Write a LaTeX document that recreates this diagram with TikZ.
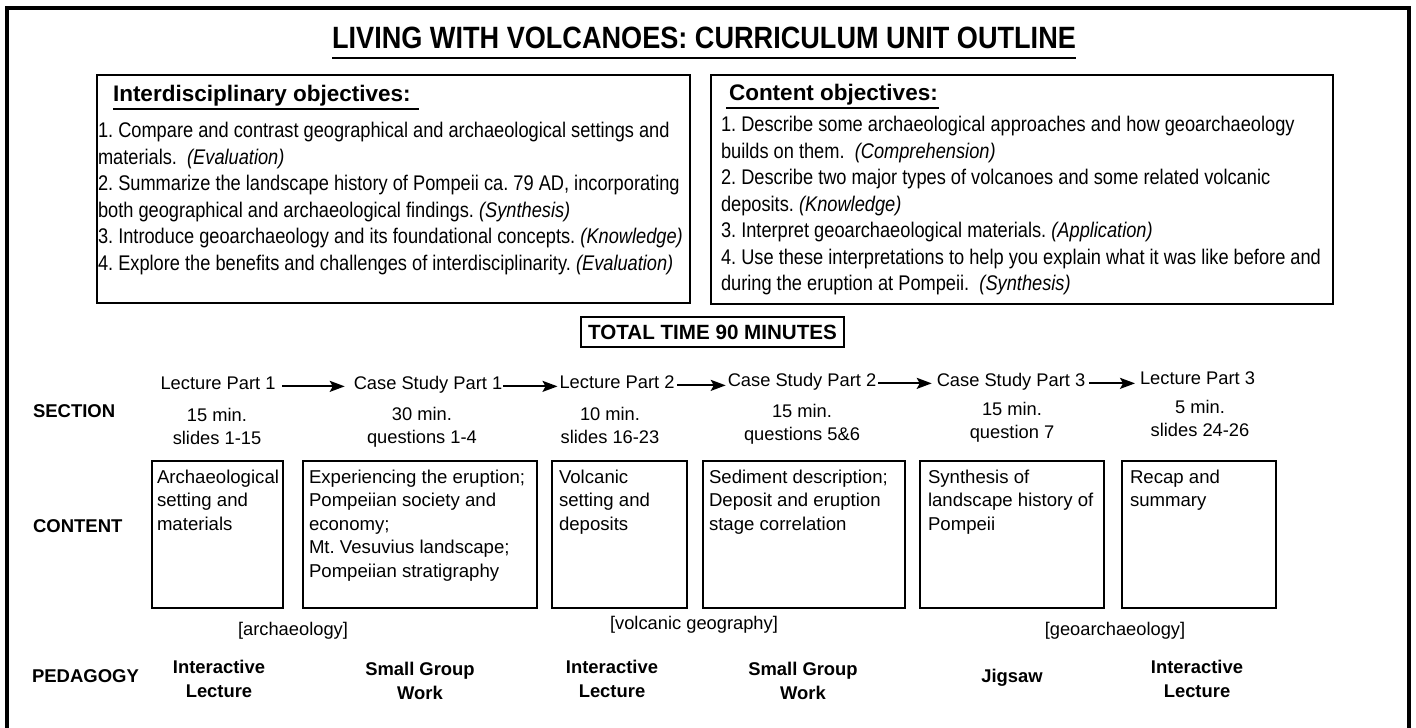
\documentclass[tikz,border=0pt]{standalone}
\usepackage{fontspec}
\setmainfont{Liberation Sans}
\newfontfamily\narrowfont{Liberation Sans}[FakeStretch=0.86]
\newfontfamily\titlefont{Liberation Sans}[FakeStretch=0.88]
\usetikzlibrary{arrows.meta,calc}
\frenchspacing
\begin{document}
\begin{tikzpicture}[x=1pt,y=-1pt,
  every node/.style={inner sep=0pt,outer sep=0pt},
  frameline/.style={line width=4pt},
  objbox/.style={draw,line width=2.5pt,anchor=north west},
  objhead/.style={font=\bfseries\fontsize{22.5}{27}\selectfont,anchor=base west},
  uline/.style={line width=1.8pt},
  objtext/.style={font=\narrowfont\fontsize{21.2}{26.5}\selectfont,align=left,anchor=north west},
  totalbox/.style={draw,line width=2.5pt,font=\bfseries\fontsize{20.6}{24}\selectfont},
  seclabel/.style={font=\fontsize{18.3}{22}\selectfont,anchor=base},
  flow/.style={line width=2pt,-{Stealth[length=15pt,width=11pt,inset=3pt]}},
  timetext/.style={font=\fontsize{18.3}{23}\selectfont,align=center,anchor=north},
  cbox/.style={draw,line width=2.5pt,anchor=north west,minimum height=147pt},
  ctext/.style={font=\fontsize{18.6}{23.5}\selectfont,align=left,anchor=north west},
  fieldlabel/.style={font=\fontsize{18.3}{22}\selectfont,anchor=base},
  rowhead/.style={font=\bfseries\fontsize{18.5}{22}\selectfont,anchor=base west},
  pedtext/.style={font=\bfseries\fontsize{18.4}{24}\selectfont,align=center,anchor=north}
]
\useasboundingbox (0,0) rectangle (1416,728);
\fill[white] (0,0) rectangle (1416,728);
% outer frame
\draw[frameline] (7,732) -- (7,8) -- (1409,8) -- (1409,732);

% title
\node[font=\titlefont\bfseries\fontsize{30.8}{36}\selectfont,anchor=base] (title) at (704,48) {LIVING WITH VOLCANOES: CURRICULUM UNIT OUTLINE};
\draw[line width=2pt] (title.west |- 0,58) -- (title.east |- 0,58);

% objective boxes
\node[objbox,minimum width=593pt,minimum height=228pt] (lbox) at (97,75) {};
\node[objbox,minimum width=622pt,minimum height=229pt] (rbox) at (711,75) {};

\node[objhead] (lhead) at (113,101) {Interdisciplinary objectives:};
\draw[uline] ($(lhead.west |- 0,109)+(0,0)$) -- ($(lhead.east |- 0,109)+(8,0)$);
\node[objhead] (rhead) at (729,100) {Content objectives:};
\draw[uline] ($(rhead.west |- 0,108)+(-3,0)$) -- ($(rhead.east |- 0,108)+(1,0)$);

\node[objtext] (ltext) at (98,122.2) {1. Compare and contrast geographical and archaeological settings and\\
materials.~ \textit{(Evaluation)}\\
2. Summarize the landscape history of Pompeii ca. 79 AD, incorporating\\
both geographical and archaeological findings. \textit{(Synthesis)}\\
3. Introduce geoarchaeology and its foundational concepts. \textit{(Knowledge)}\\
4. Explore the benefits and challenges of interdisciplinarity. \textit{(Evaluation)}};

\node[objtext] (rtext) at (721,116.4) {1. Describe some archaeological approaches and how geoarchaeology\\
builds on them.~ \textit{(Comprehension)}\\
2. Describe two major types of volcanoes and some related volcanic\\
deposits. \textit{(Knowledge)}\\
3. Interpret geoarchaeological materials. \textit{(Application)}\\
4. Use these interpretations to help you explain what it was like before and\\
during the eruption at Pompeii.~ \textit{(Synthesis)}};

% total time
\node[totalbox,minimum width=263pt,minimum height=30pt] (total) at (712.5,332) {TOTAL TIME 90 MINUTES};

% section labels and arrows
\node[seclabel] (s1) at (218,389) {Lecture Part 1};
\node[seclabel] (s2) at (428,389) {Case Study Part 1};
\node[seclabel] (s3) at (617,388) {Lecture Part 2};
\node[seclabel] (s4) at (802,386) {Case Study Part 2};
\node[seclabel] (s5) at (1011,386) {Case Study Part 3};
\node[seclabel] (s6) at (1197.5,384) {Lecture Part 3};
\draw[flow,shorten <=7pt,shorten >=9pt] (s1.mid east) -- (s1.mid east -| s2.west);
\draw[flow,shorten <=1pt,shorten >=2pt] (s2.mid east) -- (s2.mid east -| s3.west);
\draw[flow,shorten <=3pt,shorten >=2pt] (s3.mid east) -- (s3.mid east -| s4.west);
\draw[flow,shorten <=2pt,shorten >=5pt] (s4.mid east) -- (s4.mid east -| s5.west);
\draw[flow,shorten <=4pt,shorten >=5pt] (s5.mid east) -- (s5.mid east -| s6.west);

% times
\node[timetext] (m1) at (217,407.8) {15 min.\\slides 1-15};
\node[timetext] (m2) at (422,406.8) {30 min.\\questions 1-4};
\node[timetext] (m3) at (610,406.8) {10 min.\\slides 16-23};
\node[timetext] (m4) at (802,403.8) {15 min.\\questions 5\&6};
\node[timetext] (m5) at (1012,401.8) {15 min.\\question 7};
\node[timetext] (m6) at (1200,399.8) {5 min.\\slides 24-26};

% row headings
\node[rowhead] (hsec) at (33,417) {SECTION};
\node[rowhead] (hcon) at (33,532) {CONTENT};
\node[rowhead] (hped) at (32,682) {PEDAGOGY};

% content boxes
\node[cbox,minimum width=131pt] (c1) at (152,461) {};
\node[cbox,minimum width=234pt] (c2) at (303,461) {};
\node[cbox,minimum width=135pt] (c3) at (552,461) {};
\node[cbox,minimum width=202pt] (c4) at (703,461) {};
\node[cbox,minimum width=184pt] (c5) at (920,461) {};
\node[cbox,minimum width=154pt] (c6) at (1122,461) {};
\node[ctext] (ct1) at ($(c1.north west)+(5,8.6)$) {Archaeological\\setting and\\materials};
\node[ctext] (ct2) at ($(c2.north west)+(6,8.6)$) {Experiencing the eruption;\\Pompeiian society and\\economy;\\Mt. Vesuvius landscape;\\Pompeiian stratigraphy};
\node[ctext] (ct3) at ($(c3.north west)+(7,8.6)$) {Volcanic\\setting and\\deposits};
\node[ctext] (ct4) at ($(c4.north west)+(6,8.6)$) {Sediment description;\\Deposit and eruption\\stage correlation};
\node[ctext] (ct5) at ($(c5.north west)+(8,8.6)$) {Synthesis of\\landscape history of\\Pompeii};
\node[ctext] (ct6) at ($(c6.north west)+(8,8.6)$) {Recap and\\summary};

% field labels
\node[fieldlabel] (f1) at (293,635) {[archaeology]};
\node[fieldlabel] (f2) at (694,629) {[volcanic geography]};
\node[fieldlabel] (f3) at (1115,635) {[geoarchaeology]};

% pedagogy
\node[pedtext] (p1) at (219,659.8) {Interactive\\Lecture};
\node[pedtext] (p2) at (420,661.8) {Small Group\\Work};
\node[pedtext] (p3) at (612,659.8) {Interactive\\Lecture};
\node[pedtext] (p4) at (803,661.8) {Small Group\\Work};
\node[font=\bfseries\fontsize{18.4}{24}\selectfont,anchor=base] (p5) at (1012,682) {Jigsaw};
\node[pedtext] (p6) at (1197,659.8) {Interactive\\Lecture};
\end{tikzpicture}
\end{document}
